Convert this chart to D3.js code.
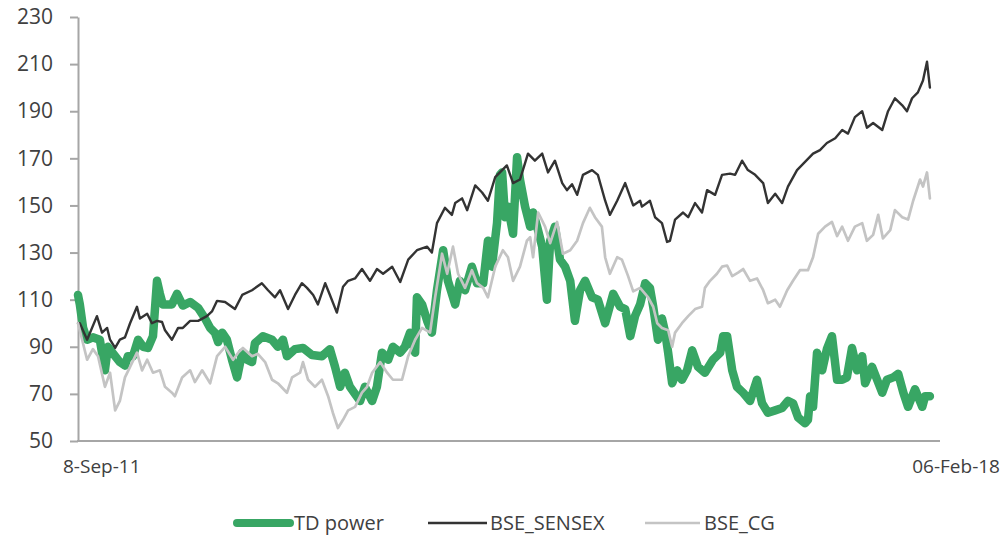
<!DOCTYPE html>
<html>
<head>
<meta charset="utf-8">
<script src="https://cdn.jsdelivr.net/npm/d3@7"></script>
<style>
  html, body { margin: 0; padding: 0; background: #fff; }
  svg { display: block; font-family: "Open Sans", "Noto Sans", sans-serif; }
</style>
</head>
<body>
<svg id="chart" width="1004" height="541"></svg>
<script>
// ---- Data (day offset from 8-Sep-2011, index value) ----
const startDate = "2011-09-08";
const endDate = "2018-02-06";
const xTickLabels = ["8-Sep-11", "06-Feb-18"];
const yTicks = [50, 70, 90, 110, 130, 150, 170, 190, 210, 230];
const seriesNames = ["TD power", "BSE_SENSEX", "BSE_CG"];

const tdPower = [[0,112],[5,108],[14,98],[25,93],[41,94],[60,93],[74,80],[82,90],[102,86],[115,83.5],[129,82],[137,86],[151,86],[165,93],[179,90],[192,89.5],[206,94.5],[217,118],[225,112.5],[233,108],[258,108],[272,112.5],[288,107.5],[308,109],[330,106.5],[349,102],[363,98],[376,96],[385,92],[396,96],[409,93],[423,84.5],[437,77],[451,87.5],[464,84.5],[478,83.5],[486,91.5],[508,94.5],[533,93],[549,90],[563,93],[574,86],[596,89],[618,89.5],[643,86.5],[670,86],[692,89],[706,81.5],[720,73],[733,79],[747,73],[761,70],[775,67],[788,73],[808,67],[821,73],[835,87.5],[852,84.5],[865,90],[885,87.5],[898,90],[912,96],[926,87.5],[931,111],[945,108],[959,101],[972,96],[986,114],[1003,131],[1016,118],[1036,108],[1049,118],[1063,114],[1082,124],[1096,117],[1113,117],[1126,135],[1137,124],[1151,142.5],[1159,163],[1165,164],[1173,145],[1181,149.5],[1195,138],[1206,170.5],[1214,161],[1228,149.5],[1242,141],[1250,147],[1261,141],[1275,132.5],[1288,110],[1297,135],[1310,141],[1324,127],[1338,124],[1352,118],[1365,101],[1379,114],[1393,118],[1412,111],[1428,110],[1448,100],[1470,112.5],[1489,107],[1503,106],[1517,94.5],[1530,103],[1544,108],[1558,117],[1571,115],[1580,107],[1593,93],[1604,102],[1613,96],[1621,87.5],[1632,74.5],[1646,80],[1659,76],[1673,80],[1687,88.5],[1703,81.5],[1722,79],[1744,84.5],[1764,87.5],[1772,94.5],[1783,94.5],[1797,80],[1810,73],[1827,70.5],[1846,67],[1865,76],[1879,66],[1895,62],[1915,63],[1934,64],[1950,67],[1964,66],[1978,60],[1997,57.5],[2005,59],[2011,69],[2019,64.5],[2030,87.5],[2044,80],[2057,89],[2071,94.5],[2085,76],[2099,76],[2112,77],[2126,89.5],[2140,80],[2154,86],[2162,74.5],[2181,81.5],[2195,76],[2209,70.5],[2222,76],[2239,77],[2253,78.5],[2267,70.5],[2280,64.5],[2299,72],[2319,64.5],[2327,69],[2340,69]];

const bseSensex = [[0,100],[5,100],[25,93],[52,103],[66,96],[80,98],[88,93],[102,89.5],[115,93],[129,94],[143,100],[162,107],[170,102],[190,104],[203,100],[217,101],[231,100.5],[239,97],[258,93],[275,98],[288,98],[308,101],[330,101],[354,103],[368,105],[382,109.5],[404,109],[431,106],[451,112],[478,114],[505,117],[522,114],[541,111],[555,114],[577,106],[596,112],[615,117],[629,115],[646,112],[659,108],[679,117],[692,112],[711,104.5],[728,115.5],[742,118],[761,119],[780,123],[802,118],[821,123],[838,121],[863,124],[885,117.5],[907,127],[931,131],[959,132.5],[972,130],[986,142.5],[1008,149],[1027,146],[1036,151],[1055,153],[1069,148],[1091,158.5],[1110,155.5],[1126,152],[1146,162],[1178,167],[1195,159.5],[1214,161],[1236,172],[1255,169],[1275,172],[1291,164],[1310,169],[1330,159.5],[1343,156.5],[1357,159],[1371,154.5],[1387,163],[1412,165],[1428,163],[1448,152],[1461,146],[1481,152],[1503,159.5],[1525,150],[1544,152],[1549,149.5],[1571,152],[1585,145],[1604,142.5],[1618,134.5],[1626,135],[1640,144],[1662,147],[1676,145],[1695,151],[1714,147],[1728,156.5],[1750,154.5],[1769,163],[1791,163.5],[1805,163],[1824,169],[1840,165],[1860,163],[1882,159.5],[1895,151],[1915,155],[1934,151],[1950,158],[1975,165],[1997,168.5],[2019,172],[2038,173.5],[2057,176.5],[2080,178.5],[2099,182],[2115,180.5],[2134,187.5],[2154,190],[2167,183],[2184,185],[2209,182],[2225,190],[2244,195.5],[2264,192.5],[2277,190],[2291,195.5],[2307,198],[2321,203],[2332,211],[2340,200]];

const bseCG = [[0,100],[25,84.5],[41,89],[55,86],[74,73],[88,79],[102,63],[115,67],[129,77],[143,81.5],[162,87.5],[176,80],[190,84.5],[206,79],[225,80],[239,73],[258,70.5],[266,69],[286,77],[308,80],[321,75],[341,80],[363,74.5],[382,86],[404,90],[426,84.5],[440,87.5],[453,89.5],[478,86],[494,87],[514,83.5],[533,76],[549,74.5],[574,70.5],[588,77],[610,79],[618,83.5],[632,76],[651,73],[670,76],[687,69],[700,62],[714,55.5],[728,59],[742,63],[761,64.5],[780,70.5],[794,73],[808,79],[830,83.5],[849,79],[865,76],[890,76],[907,86],[926,93],[945,98],[967,96],[981,111],[1000,129.5],[1014,121],[1030,132.5],[1044,121],[1063,115],[1082,122.5],[1096,117],[1113,115],[1126,111],[1146,124],[1167,131],[1181,128],[1195,118],[1214,124],[1233,135],[1242,136.5],[1250,128],[1264,147],[1283,141],[1297,134],[1316,143],[1332,129.5],[1352,131],[1371,135],[1387,142.5],[1406,149],[1420,145],[1439,141],[1448,128],[1461,121],[1481,128],[1494,127],[1511,120],[1525,113.5],[1544,115],[1566,111],[1580,107],[1591,100],[1604,98],[1621,97],[1632,90],[1640,96],[1659,100],[1676,103],[1695,106],[1714,107],[1722,115],[1736,118],[1755,121],[1769,124],[1783,124.5],[1797,120],[1813,121.5],[1827,123],[1846,118],[1865,119],[1882,114],[1895,108.5],[1915,110],[1928,107],[1948,114],[1964,118],[1983,122.5],[2005,122.5],[2019,128],[2033,138],[2052,141],[2071,143],[2085,137],[2099,141],[2115,135],[2134,141],[2154,142.5],[2167,135],[2184,137.5],[2198,146],[2211,136],[2231,139.5],[2244,148],[2264,145],[2280,144],[2294,152],[2313,161],[2321,158],[2332,164],[2340,153]];

// ---- Chart ----
const svg = d3.select("#chart");
const parse = d3.utcParse("%Y-%m-%d");
const t0 = parse(startDate), t1 = parse(endDate);
const toDate = d => d3.utcDay.offset(t0, d[0]);

const x = d3.scaleUtc().domain([t0, t1]).range([78, 931]);
const y = d3.scaleLinear().domain([50, 230]).range([441, 17]);

const axisColor = "#a6a6a6";
const textColor = "#404040";

// Y axis
const yAxis = svg.append("g")
  .attr("transform", `translate(${x.range()[0]},0)`)
  .call(d3.axisLeft(y).tickValues(yTicks).tickSize(8).tickPadding(17).tickSizeOuter(0));
yAxis.select(".domain").attr("stroke", axisColor).attr("stroke-width", 2);
yAxis.selectAll(".tick line").attr("stroke", axisColor).attr("stroke-width", 2);
yAxis.selectAll(".tick text")
  .attr("fill", textColor)
  .style("font-size", "21px")
  .style("font-family", "'Open Sans', sans-serif");

// X axis line
svg.append("line")
  .attr("x1", x.range()[0] - 1).attr("x2", x.range()[1] + 9)
  .attr("y1", y(50)).attr("y2", y(50))
  .attr("stroke", axisColor).attr("stroke-width", 2);

// X labels
const xLab = svg.append("g").attr("fill", textColor)
  .style("font-size", "19px");
xLab.append("text").attr("x", x(t0) - 15).attr("y", 473)
  .attr("text-anchor", "start").text(xTickLabels[0]);
xLab.append("text").attr("x", x(t1) + 69).attr("y", 473)
  .attr("text-anchor", "end").text(xTickLabels[1]);

// Lines
const line = d3.line().x(d => x(toDate(d))).y(d => y(d[1])).curve(d3.curveLinear);
const styles = [
  { data: tdPower, color: "#38a664", width: 8.5 },
  { data: bseSensex, color: "#333333", width: 2.4 },
  { data: bseCG, color: "#c4c4c4", width: 2.7 }
];
styles.forEach(s => {
  svg.append("path").datum(s.data)
    .attr("d", line)
    .attr("fill", "none")
    .attr("stroke", s.color)
    .attr("stroke-width", s.width)
    .attr("stroke-linejoin", "round")
    .attr("stroke-linecap", "round");
});

// Legend
const legendItems = [
  { x1: 237, x2: 290, tx: 294 },
  { x1: 428, x2: 487, tx: 490 },
  { x1: 645, x2: 700, tx: 704 }
];
const lg = svg.append("g");
legendItems.forEach((it, i) => {
  lg.append("line")
    .attr("x1", it.x1).attr("x2", it.x2).attr("y1", 523).attr("y2", 523)
    .attr("stroke", styles[i].color)
    .attr("stroke-width", i === 0 ? 8 : (i === 1 ? 2.4 : 2.7))
    .attr("stroke-linecap", i === 0 ? "round" : "butt");
  lg.append("text").attr("x", it.tx).attr("y", 530)
    .attr("fill", textColor).style("font-size", "20px")
    .text(seriesNames[i]);
});
</script>
</body>
</html>
